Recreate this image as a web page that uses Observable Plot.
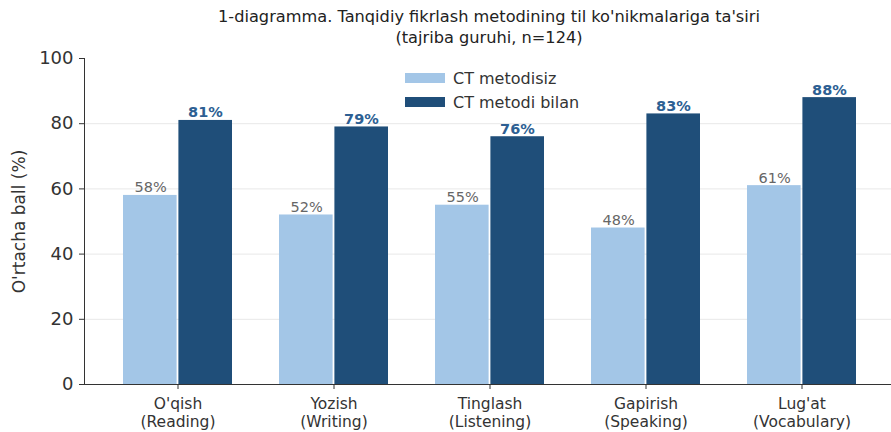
<!DOCTYPE html>
<html>
<head>
<meta charset="utf-8">
<script src="https://cdn.jsdelivr.net/npm/d3@7"></script>
<script src="https://cdn.jsdelivr.net/npm/@observablehq/plot@0.6"></script>
<style>
  html, body { margin: 0; padding: 0; background: #fff; }
  body { width: 891px; height: 432px; position: relative; overflow: hidden; font-family: "DejaVu Sans", sans-serif; }
  #title { position: absolute; left: 0; top: 6px; width: 978px; text-align: center; font-size: 16.2px; line-height: 21px; color: #222; }
  #chart { position: absolute; left: 0; top: 48px; }
  #legend { position: absolute; left: 405px; top: 66px; font-size: 16px; color: #333; }
  .row { display: flex; align-items: center; height: 24px; }
  .sw { width: 40px; height: 10px; margin-right: 8px; }
</style>
</head>
<body>
<div id="title">1-diagramma. Tanqidiy fikrlash metodining til ko'nikmalariga ta'siri<br>(tajriba guruhi, n=124)</div>
<div id="chart"></div>
<div id="legend"></div>
<script>
const categories = ["O'qish\n(Reading)", "Yozish\n(Writing)", "Tinglash\n(Listening)", "Gapirish\n(Speaking)", "Lug'at\n(Vocabulary)"];
const withoutCT = [58, 52, 55, 48, 61];
const withCT = [81, 79, 76, 83, 88];
const seriesNames = ["CT metodisiz", "CT metodi bilan"];
const seriesColors = ["#a3c6e7", "#1f4e79"];
const yTicks = [0, 20, 40, 60, 80, 100];
const yLabel = "O'rtacha ball (%)";

const rows = categories.map((c, i) => ({cat: c, a: withoutCT[i], b: withCT[i]}));

const half = 55.4;
const plot = Plot.plot({
  width: 891,
  height: 384,
  marginLeft: 84,
  marginRight: 0,
  marginTop: 10,
  marginBottom: 48,
  style: {fontFamily: "DejaVu Sans, sans-serif", background: "#fff"},
  x: {domain: categories, range: [84, 896], paddingInner: 0.3, paddingOuter: 0.244, label: null},
  y: {domain: [0, 100], label: null},
  marks: [
    Plot.gridY(yTicks.slice(1, -1), {stroke: "#e8e8e8", strokeOpacity: 1}),
    Plot.barY(rows, {x: "cat", y: "a", fill: seriesColors[0], insetRight: half}),
    Plot.barY(rows, {x: "cat", y: "b", fill: seriesColors[1], insetLeft: half}),
    Plot.text(rows, {x: "cat", y: "a", text: d => d.a + "%", dx: -27.4, dy: -3, lineAnchor: "bottom", fill: "#666", fontSize: 14.5}),
    Plot.text(rows, {x: "cat", y: "b", text: d => d.b + "%", dx: 27.4, dy: -3, lineAnchor: "bottom", fill: "#2d5f93", fontSize: 14.5, fontWeight: "bold"}),
    Plot.ruleY([0], {stroke: "#333"}),
    Plot.axisY(yTicks, {tickSize: 5, tickPadding: 6, fontSize: 18, color: "#333", label: null}),
    Plot.axisY([], {fontSize: 17, color: "#333", label: yLabel, labelArrow: "none", labelAnchor: "center", labelOffset: 72}),
    Plot.axisX({tickSize: 5, tickPadding: 7, fontSize: 15.5, color: "#333", lineHeight: 1.16, label: null}),
    Plot.frame({anchor: "left", stroke: "#333"})
  ]
});
// drop any automatic arrow from the y label
d3.select(plot).selectAll("text").each(function() {
  if (this.textContent.startsWith(yLabel) && this.textContent !== yLabel) this.textContent = yLabel;
});
document.getElementById("chart").appendChild(plot);

const legend = document.getElementById("legend");
seriesNames.forEach((n, i) => {
  const r = document.createElement("div");
  r.className = "row";
  r.innerHTML = `<div class="sw" style="background:${seriesColors[i]}"></div><span>${n}</span>`;
  legend.appendChild(r);
});
</script>
</body>
</html>
